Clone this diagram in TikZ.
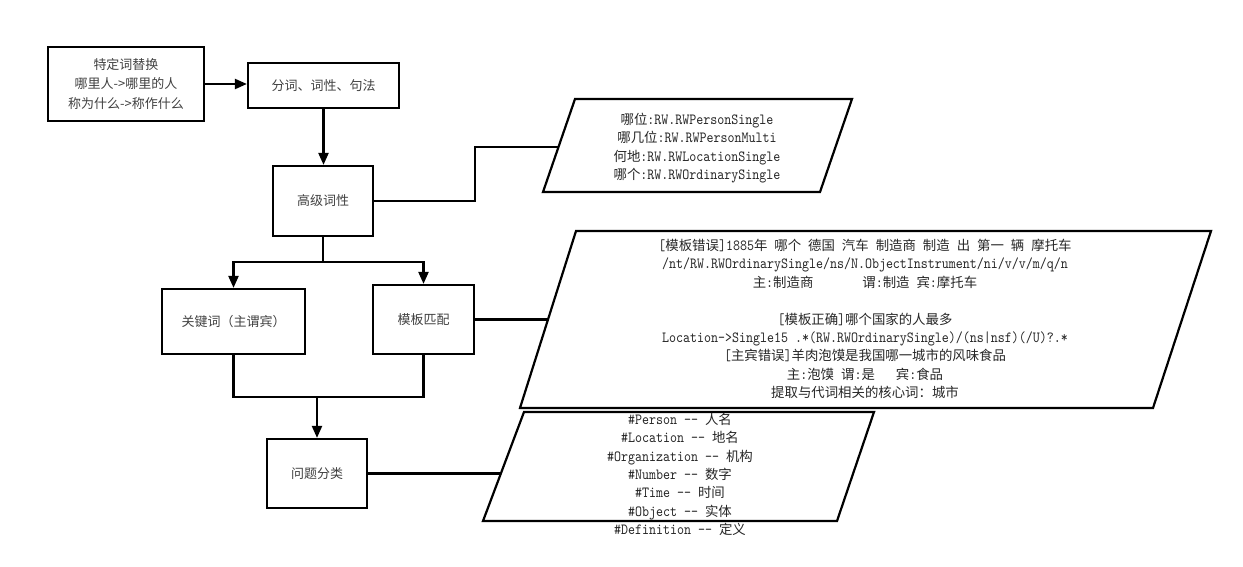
\documentclass[tikz,border=0pt]{standalone}
\usepackage{fontspec}
\setmainfont{Noto Sans CJK SC}
\newfontfamily\cjkfam{Noto Sans CJK SC}
\newfontfamily\ascfam[FakeStretch=0.86]{lmmono10-regular.otf}
\usetikzlibrary{arrows.meta}
\newcommand\zh[1]{{\cjkfam\fontsize{13.4}{18.4}\selectfont #1}}
\begin{document}
\begin{tikzpicture}[x=1pt,y=-1pt,
  box/.style={draw, line width=2.2pt, rectangle, inner sep=0pt,
    font=\fontsize{13}{19.5}\selectfont, text=black!75, align=center},
  para/.style={draw, line width=2.2pt, line join=miter},
  ptext/.style={font=\ascfam\fontsize{15.5}{18.4}\selectfont, text=black!85,
    align=center, inner sep=0pt},
  conn/.style={line width=2.2pt},
  arr/.style={conn, -{Triangle[length=12pt,width=10pt]}}]
\useasboundingbox (0,0) rectangle (1243,567);

% boxes
\node[box, minimum width=156pt, minimum height=74pt] (b1) at (126,84)
  {特定词替换\\哪里人->哪里的人\\称为什么->称作什么};
\node[box, minimum width=151pt, minimum height=45pt] (b2) at (323.5,85.5) {分词、词性、句法};
\node[box, minimum width=100pt, minimum height=70pt] (gj) at (323,201) {高级词性};
\node[box, minimum width=143pt, minimum height=65pt] (kw) at (233.5,321.5) {关键词（主谓宾）};
\node[box, minimum width=101pt, minimum height=69pt] (tm) at (423.5,319.5) {模板匹配};
\node[box, minimum width=100pt, minimum height=69pt] (wt) at (317,473.5) {问题分类};

% parallelograms
\draw[para] (575,99) -- (852,99) -- (820,192) -- (543,192) -- cycle;
\draw[para] (576,231) -- (1211,231) -- (1153,408) -- (520,408) -- cycle;
\draw[para] (524,412) -- (874,412) -- (837,521) -- (483,521) -- cycle;

\coordinate (p1bend) at (475,147);
\coordinate (p1in) at (559,147);
\coordinate (p2in) at (548,319.5);
\coordinate (p3in) at (501,473.5);
\coordinate (br) at (323,262);
\coordinate (mg) at (317,397);

% parallelogram texts
\node[ptext] (t1) at (697,148)
  {\zh{哪位}:RW.RWPersonSingle\\\zh{哪几位}:RW.RWPersonMulti\\\zh{何地}:RW.RWLocationSingle\\\zh{哪个}:RW.RWOrdinarySingle};
\node[ptext] (t2) at (865,319)
  {{}[\zh{模板错误}]1885\zh{年} \zh{哪个} \zh{德国} \zh{汽车} \zh{制造商} \zh{制造} \zh{出} \zh{第一} \zh{辆} \zh{摩托车}\\
   /nt/RW.RWOrdinarySingle/ns/N.ObjectInstrument/ni/v/v/m/q/n\\
   \zh{主}:\zh{制造商}~~~~~~~\zh{谓}:\zh{制造} \zh{宾}:\zh{摩托车}\\[18.4pt]
   {}[\zh{模板正确}]\zh{哪个国家的人最多}\\
   Location->Single15 .*(RW.RWOrdinarySingle)/(ns|nsf)(/U)?.*\\
   {}[\zh{主宾错误}]\zh{羊肉泡馍是我国哪一城市的风味食品}\\
   \zh{主}:\zh{泡馍} \zh{谓}:\zh{是}~~~\zh{宾}:\zh{食品}\\
   \zh{提取与代词相关的核心词：城市}};
\node[ptext] (t3) at (680,474.5)
  {\#Person -{}- \zh{人名}\\
   \#Location -{}- \zh{地名}\\
   \#Organization -{}- \zh{机构}\\
   \#Number -{}- \zh{数字}\\
   \#Time -{}- \zh{时间}\\
   \#Object -{}- \zh{实体}\\
   \#Definition -{}- \zh{定义}};

% connectors
\draw[arr] (b1.east) -- (b1.east -| b2.west);
\draw[arr] (b2.south) -- (b2.south |- gj.north);
\draw[conn] (gj.south) -- (br);
\draw[arr] (br) -| (kw.north);
\draw[arr] (br) -| (tm.north);
\draw[conn] (kw.south) |- (mg) -| (tm.south);
\draw[arr] (mg) -- (wt.north);
\draw[conn] (gj.east) -| (p1bend) -- (p1in);
\draw[conn] (tm.east) -- (p2in);
\draw[conn] (wt.east) -- (p3in);
\end{tikzpicture}
\end{document}
